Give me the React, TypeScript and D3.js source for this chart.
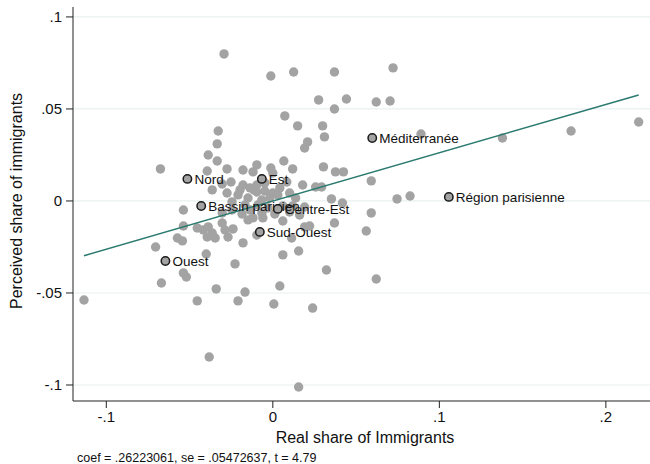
import React from 'react';
import * as d3 from 'd3';

// unlabeled départements: [real share, perceived share]
const realShare = [
  -0.0293, -0.0012, 0.0125, 0.037, 0.0722, 0.0275, 0.0442, 0.0621, 0.0704, 0.037,
  0.0072, 0.0149, 0.0299, 0.031, 0.0209, 0.0191, 0.089, 0.1379, 0.1791, 0.2197,
  -0.0328, -0.0334, -0.0388, -0.0334, -0.0675, -0.0394, -0.0275, -0.0179, -0.0096, -0.0012,
  0.0066, 0.0119, 0.0304, 0.0376, 0.0424, 0.0591, 0.0179, 0.0257, 0.0293, 0.0352,
  0.0418, 0.0746, 0.0824, 0.0591, 0.0561, -0.0119, 0.0, 0.0084, -0.0364, -0.0304,
  -0.0251, -0.0179, -0.0137, -0.0096, -0.0275, -0.0209, -0.0245, -0.0537, -0.0149, -0.0113,
  -0.0096, -0.0048, 0.0, 0.006, 0.0119, 0.0191, -0.0304, -0.0245, -0.0185, -0.0149,
  -0.0119, -0.0537, -0.0454, -0.0418, -0.0388, -0.0364, -0.0304, -0.0287, -0.0239, -0.0346,
  -0.0269, -0.0573, -0.0543, -0.0704, -0.0179, -0.04, -0.0537, -0.0519, -0.0227, -0.0669,
  -0.034, -0.0167, -0.1134, -0.0454, -0.0209, -0.0382, -0.006, 0.006, 0.0191, 0.0221,
  0.037, 0.006, 0.0155, 0.0322, 0.0042, 0.0006, 0.0239, 0.0155, 0.0621, 0.0113,
  -0.0096, -0.0394, -0.0066, -0.0018, 0.003, 0.0101, 0.0137, -0.003, -0.009, -0.0167,
  -0.0197, -0.0048, 0.0042, 0.0101, 0.0161, 0.0012, -0.0066, -0.0137
];
const perceivedShare = [
  0.0799, 0.0679, 0.0701, 0.0701, 0.0723, 0.0549, 0.0554, 0.0538, 0.0543, 0.05,
  0.0462, 0.0408, 0.0408, 0.0348, 0.0321, 0.0288, 0.0364, 0.0342, 0.038, 0.0429,
  0.038, 0.031, 0.025, 0.0217, 0.0174, 0.0163, 0.0174, 0.0168, 0.0196, 0.0179,
  0.0217, 0.0174, 0.0185, 0.0158, 0.0158, 0.0109, 0.0087, 0.0076, 0.0076, 0.0011,
  -0.0011, 0.0011, 0.0027, -0.0065, -0.0163, 0.0158, 0.0152, 0.0103, 0.006, 0.0092,
  0.0103, 0.0087, 0.0071, 0.0087, 0.0043, 0.0033, -0.0005, -0.0049, 0.0016, 0.006,
  0.0049, 0.0054, 0.0043, -0.0027, -0.0027, -0.0033, -0.0065, -0.0049, -0.0071, -0.0103,
  -0.0092, -0.0136, -0.0147, -0.0158, -0.0141, -0.0174, -0.012, -0.0158, -0.0152, -0.0201,
  -0.0196, -0.0201, -0.0217, -0.025, -0.0228, -0.0288, -0.0391, -0.0413, -0.0342, -0.0446,
  -0.0478, -0.0495, -0.0538, -0.0543, -0.0543, -0.0848, -0.0092, -0.0109, -0.0141, -0.0136,
  -0.012, -0.0293, -0.0272, -0.0375, -0.0462, -0.056, -0.0582, -0.1011, -0.0424, -0.0201,
  -0.0185, -0.0196, 0.0005, 0.0016, 0.0033, 0.0043, 0.0016, -0.0038, -0.0022, -0.0022,
  0.006, 0.0098, 0.0071, -0.006, -0.0076, -0.0071, -0.0065, -0.0049
];

// labeled regions
const regionNames = ['Nord', 'Est', 'Méditerranée', 'Région parisienne', 'Bassin parisien', 'Centre-Est', 'Sud-Ouest', 'Ouest'];
const regionReal = [-0.0513, -0.0066, 0.0597, 0.1057, -0.043, 0.003, -0.0078, -0.0645];
const regionPerceived = [0.012, 0.012, 0.0342, 0.0022, -0.0027, -0.0043, -0.0168, -0.0326];

const xTicks = [-0.1, 0, 0.1, 0.2];
const xTickLabels = ['-.1', '0', '.1', '.2'];
const yTicks = [-0.1, -0.05, 0, 0.05, 0.1];
const yTickLabels = ['-.1', '-.05', '0', '.05', '.1'];

const slope = 0.26223061;
const intercept = 0.0;
const note = 'coef = .26223061, se = .05472637, t = 4.79';

const W = 650;
const H = 464;
const font = '"Liberation Sans", Arial, Helvetica, sans-serif';

export default function App() {
  const x = d3.scaleLinear().domain([-0.12, 0.225]).range([73, 647.5]);
  const y = d3.scaleLinear().domain([-0.1087, 0.1054]).range([401, 7]);

  const allX = realShare.concat(regionReal);
  const [xmin, xmax] = d3.extent(allX) as [number, number];
  const fit = d3.line<number>().x(d => x(d)).y(d => y(intercept + slope * d));

  const gray = '#a3a3a3';

  return (
    <svg width={W} height={H} style={{ position: 'absolute', left: 0, top: 0, background: '#fff' }} fontFamily={font}>
      {/* gridlines */}
      {yTicks.map(t => (
        <line key={'g' + t} x1={73} x2={W} y1={y(t)} y2={y(t)} stroke="#e8eff1" strokeWidth={1.2} />
      ))}

      {/* points */}
      {realShare.map((v, i) => (
        <circle key={'p' + i} cx={x(v)} cy={y(perceivedShare[i])} r={4.7} fill={gray} />
      ))}

      {/* fitted line */}
      <path d={fit([xmin, xmax]) || ''} fill="none" stroke="#2b7a6f" strokeWidth={1.5} />

      {/* labeled regions */}
      {regionNames.map((n, i) => (
        <g key={n}>
          <circle cx={x(regionReal[i])} cy={y(regionPerceived[i])} r={4.2} fill={gray} stroke="#1a1a1a" strokeWidth={1.5} />
          <text x={x(regionReal[i]) + 7} y={y(regionPerceived[i]) + 5} fontSize={13.5} fill="#111">{n}</text>
        </g>
      ))}

      {/* y axis */}
      <line x1={73} x2={73} y1={7} y2={401} stroke="#222" strokeWidth={1} />
      {yTicks.map((t, i) => (
        <g key={'y' + t}>
          <line x1={66} x2={73} y1={y(t)} y2={y(t)} stroke="#222" />
          <text x={62} y={y(t) + 5} fontSize={15} textAnchor="end" fill="#111">{yTickLabels[i]}</text>
        </g>
      ))}
      <text transform={`translate(22,${y(0)}) rotate(-90)`} fontSize={16} textAnchor="middle" fill="#111">Perceived share of immigrants</text>

      {/* x axis */}
      <line x1={73} x2={W} y1={401} y2={401} stroke="#222" strokeWidth={1} />
      {xTicks.map((t, i) => (
        <g key={'x' + t}>
          <line x1={x(t)} x2={x(t)} y1={401} y2={408} stroke="#222" />
          <text x={x(t)} y={422} fontSize={15} textAnchor="middle" fill="#111">{xTickLabels[i]}</text>
        </g>
      ))}
      <text x={365} y={443} fontSize={16} textAnchor="middle" fill="#111">Real share of Immigrants</text>
      <text x={77} y={462} fontSize={12.5} fill="#111">{note}</text>
    </svg>
  );
}
